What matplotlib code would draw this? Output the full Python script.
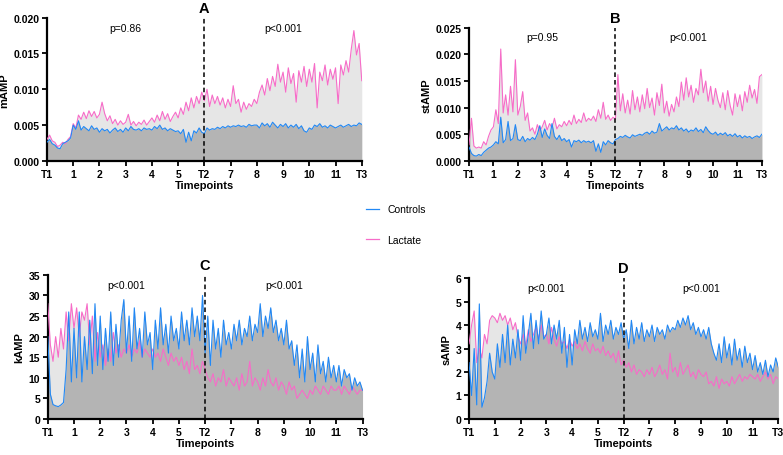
import numpy as np
import matplotlib
matplotlib.use("Agg")
import matplotlib.pyplot as plt
from matplotlib.lines import Line2D

plt.rcParams["font.family"] = ["Liberation Sans", "DejaVu Sans"]

# -----------------------------
# Data (step of 0.1 timepoint units)
# -----------------------------
tick_labels = ["T1", "1", "2", "3", "4", "5", "T2", "7", "8", "9", "10", "11", "T3"]
x = np.linspace(0, 12, 121)

# mAMP, values in units of 1e-3
lactate_m = [3.0, 3.6, 2.8, 2.6, 2.0, 2.2, 2.6, 2.4, 3.0, 3.4,
             5.2, 4.6, 6.4, 5.8, 6.8, 5.9, 7.0, 6.2, 6.9, 6.0,
             6.5, 8.2, 6.6, 5.6, 6.3, 5.2, 5.8, 5.0, 5.6, 5.1,
             5.4, 6.5, 5.0, 5.5, 4.9, 5.4, 5.1, 5.7, 5.0, 5.5,
             6.0, 5.4, 6.4, 5.6, 6.9, 5.8, 6.6, 5.5, 6.2, 6.8,
             6.0, 7.4, 6.5, 8.2, 7.0, 8.8, 7.4, 9.0, 8.0, 9.6,
             8.4, 10.0, 7.6, 9.2, 8.0, 9.0, 7.8, 8.8, 7.4, 8.6,
             7.6, 10.5, 8.0, 8.6, 6.8, 8.2, 7.2, 8.0, 7.6, 8.6,
             8.0, 9.6, 10.6, 9.2, 11.5, 9.8, 11.8, 10.4, 13.5, 11.0,
             12.4, 9.6, 13.0, 10.8, 12.2, 8.2, 12.6, 11.0, 13.2, 10.4,
             12.8, 11.0, 13.6, 7.4, 12.4, 11.2, 13.4, 10.6, 12.8, 11.4,
             13.0, 8.0, 13.4, 12.0, 14.0, 12.4, 15.6, 18.2, 14.8, 16.4,
             11.2]
controls_m = [2.6, 3.0, 2.4, 2.2, 1.8, 1.7, 2.4, 2.6, 2.8, 3.2,
              5.0, 4.4, 5.6, 4.3, 4.8, 4.5, 4.2, 4.9, 4.4, 4.6,
              4.0, 4.5, 4.2, 4.4, 3.9, 4.3, 4.6, 4.1, 4.4, 4.0,
              4.6, 4.2, 4.8, 4.4, 4.3, 4.5, 4.2, 4.6, 4.4, 4.5,
              4.3, 4.8, 4.5, 5.0, 4.4, 4.6, 4.2, 4.5, 4.3, 4.1,
              4.2, 3.8, 4.4, 2.6, 4.0, 2.8, 4.2, 3.9, 4.6, 4.0,
              3.8, 4.6, 4.3, 4.5, 4.4, 4.7, 4.5, 4.8, 4.6, 4.9,
              4.7, 4.9, 4.8, 5.0, 4.8, 4.9, 4.7, 5.1, 4.9, 5.0,
              5.0, 4.6, 5.3, 4.9, 5.2, 4.7, 5.4, 5.0, 4.6, 5.1,
              4.8, 5.2, 4.6, 5.0, 4.7, 5.1, 4.5, 4.9, 4.2, 4.0,
              4.6, 4.4, 5.0, 4.8, 5.2, 4.7, 4.9, 4.6, 5.0, 4.8,
              4.6, 4.8, 5.0, 4.7, 4.9, 5.1, 4.8, 5.0, 4.9, 5.3,
              5.1]

# stAMP, values in units of 1e-3
lactate_st = [3.0, 8.0, 2.8, 2.4, 2.6, 2.4, 3.6, 3.0, 4.6, 5.8,
              6.4, 9.6, 7.0, 21.0, 9.0, 12.4, 8.6, 14.0, 9.2, 19.0,
              8.6, 10.2, 13.0, 7.6, 9.0, 5.6, 6.2, 5.0, 6.8, 5.6,
              6.4, 7.6, 5.8, 7.0, 6.2, 8.0, 6.0, 6.8, 6.4, 7.4,
              6.6, 7.6, 6.8, 8.6, 7.0, 7.8, 7.2, 9.0, 7.4, 8.0,
              7.6, 8.4, 7.4, 9.6, 8.0, 11.0, 7.8, 8.6, 7.6, 8.2,
              7.8, 16.2, 9.4, 12.6, 9.0, 11.4, 8.8, 13.2, 9.6, 12.0,
              9.2, 12.4, 9.8, 13.6, 10.0, 11.8, 8.6, 12.8, 10.4, 14.4,
              9.0, 11.2, 8.4, 10.6, 9.2, 12.0, 10.2, 14.8, 11.4, 15.6,
              12.0, 14.2, 11.0, 13.6, 12.4, 17.2, 12.8, 15.0, 11.2, 14.0,
              10.6, 13.6, 11.4, 10.0, 12.8, 9.6, 13.2, 10.4, 8.6, 12.6,
              10.2, 12.4, 9.4, 13.0, 11.0, 14.2, 11.8, 13.4, 10.8, 15.8,
              16.2]
controls_st = [2.6, 1.4, 1.0, 0.9, 1.2, 1.0, 1.6, 2.0, 2.4, 2.6,
               3.0, 3.6, 3.2, 8.2, 3.4, 4.0, 7.4, 3.8, 4.2, 6.8,
               4.0, 3.8, 4.6, 3.6, 4.2, 3.9, 4.4, 4.0, 5.0, 6.6,
               4.4, 6.0, 4.8, 4.2, 7.0, 4.6, 4.0, 4.8, 3.8, 4.2,
               3.6, 4.0, 2.6, 3.8, 3.6, 3.9, 3.4, 3.8, 3.5, 3.7,
               3.4, 3.8, 1.8, 3.2, 1.6, 3.6, 3.0, 3.8, 3.4, 3.2,
               4.0, 4.2, 4.6, 4.4, 4.8, 4.5, 4.3, 4.9, 4.6, 4.8,
               5.0, 4.8, 5.2, 5.4, 5.0, 5.6, 5.2, 5.4, 7.0, 5.6,
               6.0, 6.4, 5.8, 6.2, 6.0, 6.6, 5.8, 6.2, 5.6, 6.0,
               5.4, 5.8, 5.6, 6.2, 5.5, 5.9, 5.3, 6.4, 5.7, 5.2,
               5.0, 5.4, 4.8, 5.2, 4.9, 5.3, 4.7, 5.0, 4.6, 5.1,
               4.5, 4.8, 4.3, 4.7, 4.4, 4.6, 4.2, 4.5, 4.7, 4.4,
               5.0]

# kAMP
lactate_k = [28, 18, 14, 20, 15, 22, 17, 26, 19, 28,
             22, 27, 20, 26, 24, 28, 18, 25, 14, 21,
             15, 18, 13, 17, 14, 21, 16, 18, 15, 17,
             16, 18, 15, 17, 16, 19, 15, 17, 16, 15,
             17, 15, 16, 14, 17, 15, 13, 16, 14, 15,
             13, 15, 12, 14, 11, 17, 12, 13, 11, 14,
             12, 10, 9, 11, 8, 10, 9, 12, 8, 10,
             9, 8, 10, 7, 11, 8, 9, 14, 8, 10,
             9, 7, 10, 8, 12, 9, 8, 10, 7, 9,
             8, 6, 9, 7, 8, 5, 6, 7, 6, 5,
             7, 6, 8, 7, 6, 8, 7, 6, 8, 7,
             7, 8, 6, 8, 7, 6, 8, 7, 6, 7,
             7]
controls_k = [20, 6, 3.5, 3.2, 3.0, 3.4, 4, 12, 26, 9,
              22, 10, 26, 9, 20, 12, 24, 11, 28, 13,
              25, 12, 22, 14, 26, 13, 23, 15, 24, 29,
              16, 25, 14, 27, 17, 22, 15, 26, 18, 21,
              12, 24, 17, 27, 18, 23, 16, 25, 19, 22,
              17, 26, 19, 24, 18, 27, 20, 25, 19, 30,
              16, 25, 13, 24, 17, 22, 15, 24, 18, 21,
              17, 23, 19, 24, 18, 22, 20, 25, 19, 23,
              21, 28, 20, 25, 22, 27, 21, 24, 19, 22,
              18, 24, 17, 19, 13, 18, 10, 17, 9, 20,
              12, 16, 9, 18, 11, 14, 9, 15, 10, 13,
              9, 13, 8, 12, 10, 11, 7, 10, 8, 9,
              7]

# sAMP
lactate_s = [3.2, 4.0, 4.6, 2.4, 3.0, 2.6, 3.6, 3.2, 4.2, 4.4,
             4.3, 4.1, 4.5, 4.2, 4.4, 4.0, 4.3, 3.8, 4.1, 3.5,
             3.2, 3.6, 3.1, 3.8, 3.3, 3.6, 3.9, 3.4, 4.0, 3.5,
             3.6, 3.2, 3.9, 3.4, 3.1, 3.5, 3.2, 3.3, 3.0, 3.4,
             3.1, 3.3, 3.0, 3.2, 2.9, 3.3, 3.0, 2.8, 3.2, 2.9,
             3.0, 2.8, 3.1, 2.7, 2.9, 2.6, 2.8, 2.4, 2.9, 2.3,
             2.5, 2.2, 2.4, 2.0, 2.3, 1.9, 2.1, 2.0, 1.8, 2.1,
             1.9, 2.2, 1.8, 2.0, 2.3, 1.9, 2.1, 1.7, 2.8, 2.0,
             2.2, 1.8, 2.4, 1.9, 2.1, 2.3, 1.8, 2.0, 1.7, 2.1,
             1.9, 1.8, 2.0, 1.5, 1.6, 1.4, 1.8, 1.3, 1.7, 1.5,
             1.6, 1.4, 1.8, 1.5, 1.7, 1.9, 1.6, 1.8, 1.7, 1.9,
             1.8, 1.7, 1.9, 1.6, 1.8, 2.0, 1.7, 1.9, 1.5, 1.8,
             1.7]
controls_s = [2.4, 1.0, 3.0, 0.6, 4.9, 0.5, 0.9, 1.6, 2.8, 2.0,
              1.7, 3.2, 2.2, 3.6, 2.4, 4.0, 2.3, 3.4, 2.6, 3.8,
              2.5, 4.4, 2.8, 3.6, 4.5, 3.0, 4.2, 3.2, 4.6, 3.4,
              3.6, 4.3, 3.2, 4.0, 3.4, 4.2, 2.8, 3.9, 2.2, 3.6,
              2.3, 3.8, 3.2, 4.2, 3.4, 3.9, 3.3, 4.1, 3.5, 3.8,
              3.4, 4.5, 3.3, 4.0, 3.6, 4.2, 3.4, 3.9, 3.6, 4.1,
              3.4, 3.8, 3.0, 4.2, 3.2, 3.9, 3.4, 4.1, 3.3, 3.8,
              3.5, 4.0, 3.3, 3.9, 3.6, 3.8, 3.4, 4.0, 3.7, 3.9,
              3.8, 4.2, 3.9, 4.3, 4.0, 4.4, 3.8, 4.1, 3.6, 3.9,
              3.5, 3.8, 3.4, 3.9, 3.2, 2.8, 2.5, 3.2, 2.4, 3.5,
              2.6, 3.2, 2.3, 3.4, 2.5, 3.0, 2.2, 3.1, 2.4, 2.8,
              2.1, 2.7, 2.0, 2.4, 1.9, 2.5, 1.8, 2.3, 2.0, 2.6,
              2.2]

blue = "#2188f5"
pink = "#f76cc8"
light_fill = "#e6e6e6"
dark_fill = "#b4b4b4"

# -----------------------------
# Figure
# -----------------------------
fig = plt.figure(figsize=(7.83, 4.56), dpi=100)

panels = [
    # rect, lactate, controls, scale, ylim, yticks, fmt, ylabel, letter, p-values
    ([0.060, 0.645, 0.402, 0.314], lactate_m, controls_m, 1e-3, 0.020,
     np.arange(0, 0.0201, 0.005), "{:.3f}", "mAMP", "A", ("p=0.86", "p<0.001")),
    ([0.599, 0.645, 0.374, 0.292], lactate_st, controls_st, 1e-3, 0.025,
     np.arange(0, 0.0251, 0.005), "{:.3f}", "stAMP", "B", ("p=0.95", "p<0.001")),
    ([0.061, 0.079, 0.402, 0.316], lactate_k, controls_k, 1, 35,
     np.arange(0, 36, 5), "{:.0f}", "kAMP", "C", ("p<0.001", "p<0.001")),
    ([0.599, 0.079, 0.395, 0.309], lactate_s, controls_s, 1, 6,
     np.arange(0, 7, 1), "{:.0f}", "sAMP", "D", ("p<0.001", "p<0.001")),
]

for rect, lac, con, scale, ytop, yticks, fmt, ylabel, letter, pvals in panels:
    ax = fig.add_axes(rect)
    lac = np.array(lac) * scale
    con = np.array(con) * scale

    ax.fill_between(x, 0, lac, color=light_fill, lw=0, zorder=1)
    ax.fill_between(x, 0, con, color=dark_fill, lw=0, zorder=2)
    ax.plot(x, lac, color=pink, lw=0.8, zorder=3)
    ax.plot(x, con, color=blue, lw=0.8, zorder=4)

    ax.axvline(6, color="black", ls=(0, (3, 2)), lw=1.1, zorder=5)

    ax.set_xlim(0, 12)
    ax.set_ylim(0, ytop)
    ax.set_xticks(range(13))
    ax.set_xticklabels(tick_labels, fontsize=7.5, fontweight="bold")
    ax.set_yticks(yticks)
    ax.set_yticklabels([fmt.format(v) for v in yticks], fontsize=7.5, fontweight="bold")
    ax.tick_params(direction="out", length=3.5, width=1.3, pad=2)

    for side in ["top", "right"]:
        ax.spines[side].set_visible(False)
    for side in ["left", "bottom"]:
        ax.spines[side].set_linewidth(1.6)

    ax.set_xlabel("Timepoints", fontsize=8, fontweight="bold", labelpad=1)
    ax.set_ylabel(ylabel, fontsize=8, fontweight="bold", labelpad=3)
    ax.text(6, 1.02, letter, transform=ax.get_xaxis_transform(),
            ha="center", va="bottom", fontsize=10.5, fontweight="bold")
    ax.text(3, 0.93, pvals[0], transform=ax.get_xaxis_transform(),
            ha="center", va="center", fontsize=7.5)
    ax.text(9, 0.93, pvals[1], transform=ax.get_xaxis_transform(),
            ha="center", va="center", fontsize=7.5)

handles = [Line2D([], [], color=blue, lw=0.9), Line2D([], [], color=pink, lw=0.9)]
fig.legend(handles, ["Controls", "Lactate"], loc="center left",
           bbox_to_anchor=(0.455, 0.505), frameon=False, fontsize=7.5,
           handlelength=1.3, labelspacing=2.0)

fig.savefig("out.png", dpi=100)
